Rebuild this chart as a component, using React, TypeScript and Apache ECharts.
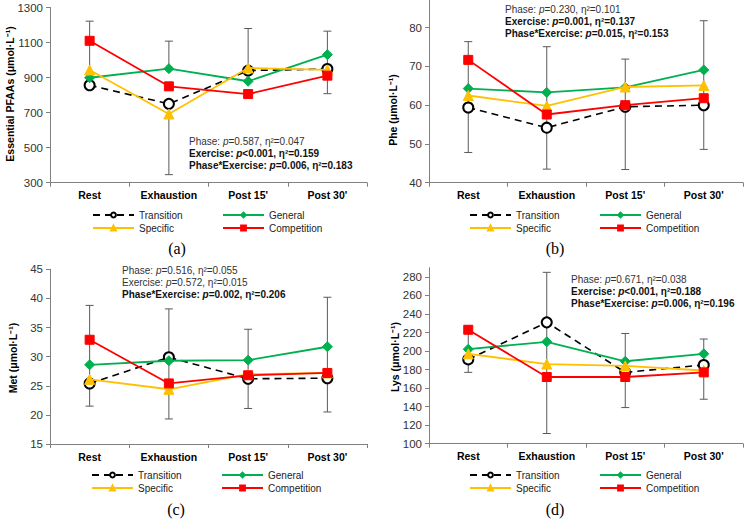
import React, { useEffect, useRef } from 'react';
import * as echarts from 'echarts';

const categories = ['Rest', 'Exhaustion', "Post 15'", "Post 30'"];

// Panel (a) Essential PFAAs
const aTransition = [856, 750, 940, 949];
const aGeneral = [899, 951, 879, 1031];
const aSpecific = [943, 692, 955, 944];
const aCompetition = [1110, 850, 806, 911];
const aUpperFrom = [856, 951, 945, 949];
const aUpperTo = [1222, 1108, 1180, 1165];
const aLowerFrom = [null, 692, null, 949];
const aLowerTo = [null, 346, null, 808];
const aTicks = [300, 500, 700, 900, 1100, 1300];

// Panel (b) Phe
const bTransition = [59.4, 54.2, 59.6, 60.0];
const bGeneral = [64.3, 63.3, 64.6, 69.1];
const bSpecific = [62.5, 59.8, 64.7, 65.1];
const bCompetition = [71.7, 57.6, 60.0, 61.8];
const bUpperFrom = [59.4, 54.2, 59.6, 60.0];
const bUpperTo = [76.4, 75.1, 71.9, 81.8];
const bLowerFrom = [59.4, 54.2, 59.6, 60.0];
const bLowerTo = [47.8, 43.5, 43.4, 48.6];
const bTicks = [40, 50, 60, 70, 80];

// Panel (c) Met
const cTransition = [25.4, 29.9, 26.2, 26.3];
const cGeneral = [28.6, 29.3, 29.4, 31.7];
const cSpecific = [26.1, 24.4, 27.0, 27.2];
const cCompetition = [32.9, 25.4, 26.8, 27.2];
const cUpperFrom = [25.4, 29.9, 26.2, 26.3];
const cUpperTo = [38.8, 38.2, 34.7, 40.2];
const cLowerFrom = [25.4, 29.9, 26.2, 26.3];
const cLowerTo = [21.5, 19.3, 21.1, 20.5];
const cTicks = [15, 20, 25, 30, 35, 40, 45];

// Panel (d) Lys
const dTransition = [191, 231, 177, 185];
const dGeneral = [202, 210, 189, 197];
const dSpecific = [197, 186, 184, 179];
const dCompetition = [223, 172, 172, 177];
const dUpperFrom = [null, 231, 177, 185];
const dUpperTo = [null, 285, 219, 213];
const dLowerFrom = [223, 231, 177, 185];
const dLowerTo = [177, 111, 139, 148];
const dTicks = [100, 120, 140, 160, 180, 200, 220, 240, 260, 280];

const FONT = '"Liberation Sans", Arial, sans-serif';
const SERIF = '"Liberation Serif", "Times New Roman", serif';

type Panel = {
  grid: { left: number; top: number; width: number; height: number };
  min: number;
  max: number;
  ticks: number[];
  yName: string;
  yNameX: number;
  yNameY: number;
  values: number[][];
  upperFrom: (number | null)[];
  upperTo: (number | null)[];
  lowerFrom: (number | null)[];
  lowerTo: (number | null)[];
  notes: { x: number; y: number; lines: [string, string, boolean][] };
  legendTop: number;
  legendLeft: [number, number];
  caption: string;
  captionX: number;
  captionY: number;
};

const panels: Panel[] = [
  {
    grid: { left: 50, top: 7.5, width: 317, height: 175.2 },
    min: 300, max: 1300, ticks: aTicks,
    yName: 'Essential PFAAs (μmol·L⁻¹)', yNameX: 10, yNameY: 94,
    values: [aTransition, aGeneral, aSpecific, aCompetition],
    upperFrom: aUpperFrom, upperTo: aUpperTo, lowerFrom: aLowerFrom, lowerTo: aLowerTo,
    notes: { x: 189, y: 141, lines: [['Phase: ', '=0.587, η²=0.047', false], ['Exercise: ', '<0.001, η²=0.159', true], ['Phase*Exercise: ', '=0.006, η²=0.183', true]] },
    legendTop: 210, legendLeft: [92, 222],
    caption: '(a)', captionX: 177, captionY: 248,
  },
  {
    grid: { left: 429, top: 0, width: 314, height: 182.7 },
    min: 40, max: 87.15, ticks: bTicks,
    yName: 'Phe (μmol·L⁻¹)', yNameX: 393, yNameY: 110,
    values: [bTransition, bGeneral, bSpecific, bCompetition],
    upperFrom: bUpperFrom, upperTo: bUpperTo, lowerFrom: bLowerFrom, lowerTo: bLowerTo,
    notes: { x: 505, y: 9, lines: [['Phase: ', '=0.230, η²=0.101', false], ['Exercise: ', '=0.001, η²=0.137', true], ['Phase*Exercise: ', '=0.015, η²=0.153', true]] },
    legendTop: 210, legendLeft: [469, 599],
    caption: '(b)', captionX: 555, captionY: 248,
  },
  {
    grid: { left: 50, top: 269.3, width: 317, height: 174.7 },
    min: 15, max: 45, ticks: cTicks,
    yName: 'Met (μmol·L⁻¹)', yNameX: 13, yNameY: 358,
    values: [cTransition, cGeneral, cSpecific, cCompetition],
    upperFrom: cUpperFrom, upperTo: cUpperTo, lowerFrom: cLowerFrom, lowerTo: cLowerTo,
    notes: { x: 122, y: 270, lines: [['Phase: ', '=0.516, η²=0.055', false], ['Exercise: ', '=0.572, η²=0.015', false], ['Phase*Exercise: ', '=0.002, η²=0.206', true]] },
    legendTop: 470, legendLeft: [91, 221],
    caption: '(c)', captionX: 176, captionY: 509,
  },
  {
    grid: { left: 429, top: 267.7, width: 314, height: 176 },
    min: 100, max: 290, ticks: dTicks,
    yName: 'Lys (μmol·L⁻¹)', yNameX: 395, yNameY: 357,
    values: [dTransition, dGeneral, dSpecific, dCompetition],
    upperFrom: dUpperFrom, upperTo: dUpperTo, lowerFrom: dLowerFrom, lowerTo: dLowerTo,
    notes: { x: 571, y: 279, lines: [['Phase: ', '=0.671, η²=0.038', false], ['Exercise: ', '<0.001, η²=0.188', true], ['Phase*Exercise: ', '=0.006, η²=0.196', true]] },
    legendTop: 470, legendLeft: [469, 599],
    caption: '(d)', captionX: 555, captionY: 509,
  },
];

const seriesStyles = [
  { name: 'Transition', symbol: 'emptyCircle', symbolSize: 10, legendSize: 7, color: '#000000', dashed: true },
  { name: 'General', symbol: 'diamond', symbolSize: 10, legendSize: 7, color: '#00B050', dashed: false },
  { name: 'Specific', symbol: 'triangle', symbolSize: 10, legendSize: 7, color: '#FFC000', dashed: false },
  { name: 'Competition', symbol: 'rect', symbolSize: 9, legendSize: 6, color: '#FF0000', dashed: false },
];

function lineStyleFor(s: typeof seriesStyles[number]) {
  return { color: s.color, width: s.dashed ? 1.6 : 1.8, type: s.dashed ? [7, 5] : 'solid' };
}

function buildOption() {
  const grid: any[] = [];
  const xAxis: any[] = [];
  const yAxis: any[] = [];
  const series: any[] = [];
  const legend: any[] = [];
  const graphic: any[] = [];

  // legend proxies (empty series, first with each name, so legend icons use a small marker)
  seriesStyles.forEach((s) => {
    series.push({
      type: 'line', name: s.name, xAxisIndex: 0, yAxisIndex: 0, data: [],
      symbol: s.symbol, symbolSize: s.legendSize,
      lineStyle: lineStyleFor(s),
      itemStyle: { color: s.color, borderColor: s.color, borderWidth: s.dashed ? 1.2 : 1 },
    });
  });

  panels.forEach((p, i) => {
    grid.push({ ...p.grid, containLabel: false });
    xAxis.push({
      type: 'category', gridIndex: i, data: categories, boundaryGap: true,
      axisLine: { lineStyle: { color: '#808080', width: 1 } },
      axisTick: { show: true, length: 4, lineStyle: { color: '#808080' } },
      axisLabel: { color: '#000', fontFamily: FONT, fontWeight: 'bold', fontSize: 10.5, margin: 7 },
      splitLine: { show: false },
    });
    yAxis.push({
      type: 'value', gridIndex: i, min: p.min, max: p.max,
      axisLine: { show: true, lineStyle: { color: '#808080', width: 1 } },
      axisTick: { show: true, length: 4, customValues: p.ticks, lineStyle: { color: '#808080' } },
      axisLabel: {
        color: '#333', fontFamily: FONT, fontSize: 11.5, margin: 7, customValues: p.ticks,
        formatter: (v: number) => String(v),
      },
      splitLine: { show: false },
    });

    const errData: number[][] = [];
    for (let k = 0; k < categories.length; k++) {
      if (p.upperFrom[k] != null && p.upperTo[k] != null) errData.push([k, p.upperFrom[k] as number, p.upperTo[k] as number]);
      if (p.lowerFrom[k] != null && p.lowerTo[k] != null) errData.push([k, p.lowerFrom[k] as number, p.lowerTo[k] as number]);
    }
    series.push({
      type: 'custom', name: 'err' + i, xAxisIndex: i, yAxisIndex: i, z: 1,
      encode: { x: 0, y: [1, 2] }, data: errData, silent: true,
      renderItem: (params: any, api: any) => {
        const c = api.value(0);
        const p1 = api.coord([c, api.value(1)]);
        const p2 = api.coord([c, api.value(2)]);
        const st = { stroke: '#595959', lineWidth: 1 };
        return {
          type: 'group',
          children: [
            { type: 'line', shape: { x1: p1[0], y1: p1[1], x2: p2[0], y2: p2[1] }, style: st },
            { type: 'line', shape: { x1: p2[0] - 4, y1: p2[1], x2: p2[0] + 4, y2: p2[1] }, style: st },
          ],
        };
      },
    });

    seriesStyles.forEach((s, j) => {
      series.push({
        type: 'line', name: s.name, xAxisIndex: i, yAxisIndex: i, z: 3 + j,
        data: p.values[j], symbol: s.symbol, symbolSize: s.symbolSize,
        showAllSymbol: true,
        lineStyle: lineStyleFor(s),
        itemStyle: { color: s.color, borderColor: s.color, borderWidth: s.dashed ? 1.5 : 1 },
        emphasis: { disabled: true },
      });
    });

    const legendBase = {
      orient: 'vertical', top: p.legendTop, itemWidth: 41, itemHeight: 6, itemGap: 3,
      padding: 0, selectedMode: false,
      textStyle: { fontFamily: FONT, fontSize: 10, color: '#222' },
    };
    legend.push({ ...legendBase, left: p.legendLeft[0], data: ['Transition', 'Specific'] });
    legend.push({ ...legendBase, left: p.legendLeft[1], data: ['General', 'Competition'] });

    graphic.push({
      type: 'text', x: p.yNameX, y: p.yNameY, rotation: Math.PI / 2,
      style: { text: p.yName, font: `bold 10.5px ${FONT}`, fill: '#000', align: 'center', verticalAlign: 'middle' },
    });

    p.notes.lines.forEach((ln, k) => {
      const w = ln[2] ? 'bold' : 'normal';
      const col = ln[2] ? '#111' : '#333';
      graphic.push({
        type: 'text', x: p.notes.x, y: p.notes.y + k * 12,
        style: {
          text: `{a|${ln[0]}}{b|p}{a|${ln[1]}}`,
          verticalAlign: 'middle',
          rich: {
            a: { fontFamily: FONT, fontSize: 10, fontWeight: w, fill: col },
            b: { fontFamily: FONT, fontSize: 10, fontWeight: w, fontStyle: 'italic', fill: col },
          },
        },
      });
    });

    graphic.push({
      type: 'text', x: p.captionX, y: p.captionY,
      style: { text: p.caption, font: `16px ${SERIF}`, fill: '#000', align: 'center', verticalAlign: 'middle' },
    });
  });

  return {
    animation: false,
    backgroundColor: '#ffffff',
    grid, xAxis, yAxis, series, legend, graphic,
  };
}

export default function App() {
  const ref = useRef<HTMLDivElement>(null);
  useEffect(() => {
    if (!ref.current) return;
    const chart = echarts.init(ref.current, undefined, { renderer: 'svg' });
    chart.setOption(buildOption() as any);
    return () => chart.dispose();
  }, []);
  return <div ref={ref} style={{ position: 'fixed', left: 0, top: 0, width: 745, height: 525 }} />;
}
